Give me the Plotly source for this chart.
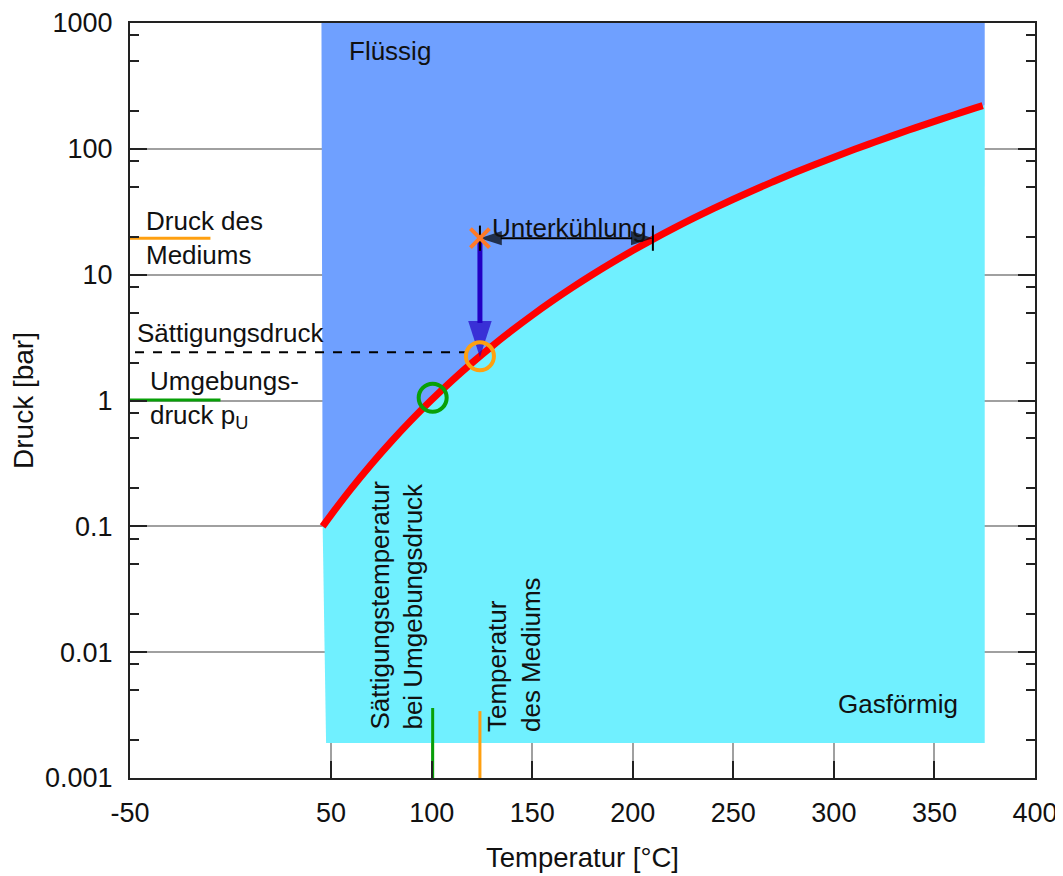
import numpy as np
import plotly.graph_objects as go

# --- data ---
# saturation curve (water): temperature [°C] and pressure [bar]
T_sat = [45.8, 50, 60, 70, 80, 90, 100, 110, 120, 130, 140, 150, 160, 170, 180, 190,
         200, 210, 220, 230, 240, 250, 260, 270, 280, 290, 300, 310, 320, 330, 340,
         350, 360, 370, 374]
p_sat = [0.100, 0.1235, 0.1995, 0.312, 0.474, 0.702, 1.014, 1.434, 1.987, 2.703, 3.615,
         4.762, 6.182, 7.922, 10.03, 12.55, 15.55, 19.08, 23.20, 27.97, 33.47, 39.76,
         46.92, 55.03, 64.17, 74.42, 85.88, 98.65, 112.8, 128.6, 146.0, 165.3, 186.7,
         210.4, 220.6]

T_medium = 124          # temperature of the medium
p_medium = 19.5         # pressure of the medium
T_amb_sat = 100.5       # saturation temperature at ambient pressure
p_amb = 1.01            # ambient pressure
p_sat_medium = 2.25     # saturation pressure at medium temperature
p_sat_line = 2.42       # dashed line level
T_sub_end = 210         # end of subcooling arrow

region_T = [45.2, 47.5, 375]        # region edges (left top, left bottom, right)
region_p = [0.0019, 1000]           # gas region bottom, plot top

x_ticks = [-50, 50, 100, 150, 200, 250, 300, 350, 400]
y_ticks = [0.001, 0.01, 0.1, 1, 10, 100, 1000]
y_ticktext = ["0.001", "0.01", "0.1", "1", "10", "100", "1000"]
y_minor = [m * 10.0 ** e for e in range(-3, 3) for m in (2, 5, 8)]

FONT = "Arial, 'Liberation Sans', sans-serif"
C_LIQ = "#6fa0ff"
C_GAS = "#70f0ff"
C_RED = "#ff0000"
C_BLUE = "#2200c4"
C_ORANGE = "#ffa010"
C_XORANGE = "#ff7a28"
C_GREEN = "#08a008"

fig = go.Figure()

# liquid region
fig.add_trace(go.Scatter(
    x=T_sat + [region_T[2], region_T[2], region_T[0]],
    y=p_sat + [p_sat[-1], region_p[1], region_p[1]],
    fill="toself", fillcolor=C_LIQ, mode="lines", line=dict(width=0),
    hoverinfo="skip", showlegend=False))
# gas region
fig.add_trace(go.Scatter(
    x=T_sat + [region_T[2], region_T[2], region_T[1]],
    y=p_sat + [p_sat[-1], region_p[0], region_p[0]],
    fill="toself", fillcolor=C_GAS, mode="lines", line=dict(width=0),
    hoverinfo="skip", showlegend=False))
# saturation curve
fig.add_trace(go.Scatter(x=T_sat, y=p_sat, mode="lines", line=dict(color=C_RED, width=7, shape="spline"),
                         showlegend=False))

# left marker lines
fig.add_trace(go.Scatter(x=[-50, -10], y=[p_medium, p_medium], mode="lines",
                         line=dict(color=C_ORANGE, width=3), showlegend=False))
fig.add_trace(go.Scatter(x=[-50, -5], y=[p_amb, p_amb], mode="lines",
                         line=dict(color=C_GREEN, width=3), showlegend=False))
# dashed saturation pressure line
fig.add_trace(go.Scatter(x=[-47.5, T_medium - 5], y=[p_sat_line, p_sat_line], mode="lines",
                         line=dict(color="black", width=2, dash="dash"), showlegend=False))
# bottom marker lines
fig.add_trace(go.Scatter(x=[T_amb_sat, T_amb_sat], y=[0.001, 0.0036], mode="lines",
                         line=dict(color=C_GREEN, width=3), showlegend=False))
fig.add_trace(go.Scatter(x=[T_medium, T_medium], y=[0.001, 0.0034], mode="lines",
                         line=dict(color=C_ORANGE, width=3), showlegend=False))

# blue arrow (pressure drop)
fig.add_trace(go.Scatter(x=[T_medium, T_medium], y=[p_medium, 2.21], mode="lines+markers",
                         line=dict(color=C_BLUE, width=5),
                         marker=dict(symbol="arrow", angleref="previous", size=[0, 38], color=C_BLUE,
                                     line=dict(width=0)),
                         showlegend=False))
# subcooling double arrow
mid = (T_medium + T_sub_end) / 2
for xe in (T_medium, T_sub_end):
    fig.add_trace(go.Scatter(x=[mid, xe], y=[p_medium, p_medium], mode="lines+markers",
                             line=dict(color="black", width=2),
                             marker=dict(symbol="arrow", angleref="previous", size=[0, 23], color="black",
                                         line=dict(width=0)),
                             showlegend=False))
fig.add_trace(go.Scatter(x=[T_medium, T_sub_end], y=[p_medium, p_medium], mode="markers",
                         marker=dict(symbol="line-ns", size=18, color="black",
                                     line=dict(color="black", width=2)),
                         showlegend=False))
# orange x
fig.add_trace(go.Scatter(x=[T_medium], y=[p_medium], mode="markers",
                         marker=dict(symbol="x-thin", size=19, color=C_XORANGE,
                                     line=dict(color=C_XORANGE, width=4)),
                         showlegend=False))
# circles
fig.add_trace(go.Scatter(x=[T_medium], y=[p_sat_medium], mode="markers",
                         marker=dict(symbol="circle-open", size=28, color=C_ORANGE,
                                     line=dict(color=C_ORANGE, width=4)),
                         showlegend=False))
fig.add_trace(go.Scatter(x=[T_amb_sat], y=[p_amb * 1.04], mode="markers",
                         marker=dict(symbol="circle-open", size=28, color=C_GREEN,
                                     line=dict(color=C_GREEN, width=4)),
                         showlegend=False))

L = np.log10
fs = 26
ann = [
    dict(x=58, y=L(600), text="Flüssig", xanchor="left", yanchor="middle"),
    dict(x=332, y=L(0.0039), text="Gasförmig", xanchor="center", yanchor="middle"),
    dict(x=-43, y=L(p_medium), text="Druck des<br>Mediums", xanchor="left", yanchor="middle", align="left"),
    dict(x=-47.5, y=L(3.45), text="Sättigungsdruck", xanchor="left", yanchor="middle"),
    dict(x=-41, y=L(p_amb), text="Umgebungs-<br>druck p<sub>U</sub>", xanchor="left", yanchor="middle", align="left"),
    dict(x=168.5, y=L(23.5), text="Unterkühlung", xanchor="center", yanchor="middle"),
    dict(x=82.3, y=L(0.00232), text="Sättigungstemperatur<br>bei Umgebungsdruck", textangle=-90,
         xanchor="center", yanchor="bottom", align="left"),
    dict(x=141, y=L(0.00222), text="Temperatur<br>des Mediums", textangle=-90,
         xanchor="center", yanchor="bottom", align="left"),
]
for a in ann:
    a.update(xref="x", yref="y", showarrow=False, font=dict(size=fs, family=FONT, color="#111"))
    fig.add_annotation(**a)

# page body adds an 8px offset, so the figure is sized/margined to compensate
fig.update_layout(
    width=1055, height=868,
    margin=dict(l=122, r=28, t=15, b=98),
    paper_bgcolor="white", plot_bgcolor="white",
    font=dict(family=FONT, size=27, color="#111"),
    showlegend=False,
)
fig.update_xaxes(
    range=[-50, 400], tickmode="array", tickvals=x_ticks, ticktext=[str(v) for v in x_ticks],
    ticks="inside", ticklen=17, tickwidth=2, tickcolor="#222",
    showline=True, linewidth=2, linecolor="#222", mirror=True,
    showgrid=True, gridcolor="#a0a0a0", gridwidth=1.5, zeroline=False,
    title=dict(text="Temperatur [°C]", font=dict(size=27.5), standoff=20),
    tickfont=dict(size=27), ticklabelstandoff=10, automargin=False,
)
fig.update_yaxes(
    type="log", range=[-3, 3], tickmode="array", tickvals=y_ticks, ticktext=y_ticktext,
    ticks="inside", ticklen=17, tickwidth=2, tickcolor="#222",
    showline=True, linewidth=2, linecolor="#222", mirror="ticks",
    showgrid=True, gridcolor="#a0a0a0", gridwidth=1.5, zeroline=False,
    minor=dict(tickmode="array", tickvals=y_minor, ticks="inside", ticklen=9, tickwidth=2,
               tickcolor="#222", showgrid=False),
    title=dict(text="Druck [bar]", font=dict(size=28), standoff=7),
    tickfont=dict(size=27), ticklabelstandoff=10, automargin=False,
)

fig.write_html("out.html")
